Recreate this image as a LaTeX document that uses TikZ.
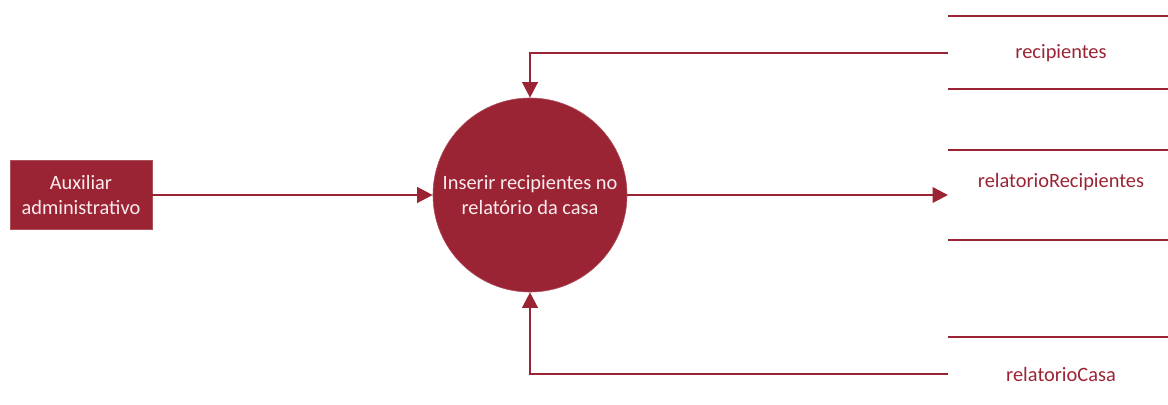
\documentclass[tikz,border=0pt]{standalone}
\usepackage{fontspec}
\setmainfont{Carlito}
\usetikzlibrary{arrows.meta}
\usetikzlibrary{positioning}

\definecolor{dfdred}{RGB}{155,36,52}
\definecolor{dfdtext}{RGB}{250,236,238}

\tikzset{
  flow/.style={draw=dfdred,line width=1.6pt,-{Triangle[length=11pt,width=11pt]}},
  storeline/.style={draw=dfdred,line width=1.6pt},
  storetext/.style={font=\fontsize{14.5}{17.5}\selectfont,text=dfdred},
  entity/.style={rectangle,fill=dfdred,draw=dfdred!80,thin,minimum width=3.55cm,minimum height=1.725cm,
    align=center,font=\fontsize{14.5}{17.5}\selectfont,text=dfdtext,inner sep=0pt},
  process/.style={circle,fill=dfdred,draw=dfdred!80,thin,minimum size=4.85cm,
    align=center,font=\fontsize{14.5}{17.5}\selectfont,text=dfdtext,inner sep=0pt}
}

\begin{document}
\begin{tikzpicture}[x=0.025cm,y=-0.025cm]
\useasboundingbox (0,0) rectangle (1168,405);

% entidade e processo
\node[entity] (aux) at (81,195) {Auxiliar\\administrativo};
\node[process] (proc) at (530,195) {Inserir recipientes no\\relatório da casa};

% depositos de dados
\draw[storeline] (948,16) -- (1168,16);
\draw[storeline] (948,89) -- (1168,89);
\node[storetext] (rec) at (1061,53) {recipientes};
\draw[storeline] (948,150) -- (1168,150);
\draw[storeline] (948,240) -- (1168,240);
\node[storetext] (relrec) at (1061,182) {relatorioRecipientes};
\draw[storeline] (948,337) -- (1168,337);
\node[storetext] (relcasa) at (1061,374) {relatorioCasa};

\coordinate (recIn) at (948,53);
\coordinate (relrecIn) at (948,195);
\coordinate (relcasaIn) at (948,374);

% fluxos
\draw[flow] (aux.east) -- (proc.west);
\draw[flow] (proc.east) -- (relrecIn);
\draw[flow] (recIn) -| (proc.north);
\draw[flow] (relcasaIn) -| (proc.south);

\end{tikzpicture}
\end{document}
